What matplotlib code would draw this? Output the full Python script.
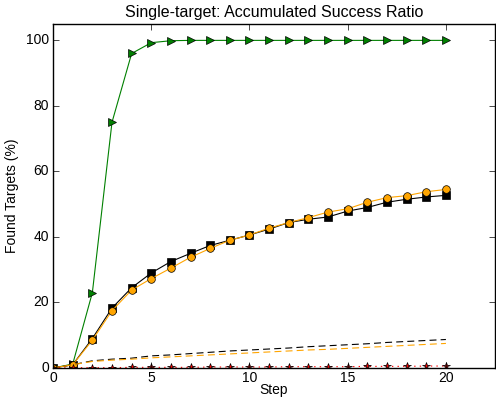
import matplotlib
matplotlib.use("Agg")
import matplotlib.pyplot as plt

plt.style.use("classic")
plt.rcParams["font.family"] = ["Liberation Sans", "DejaVu Sans"]

steps = list(range(21))

# accumulated success ratio (%) per method
fast = [0, 1.2, 23, 75, 96, 99.3, 99.9, 100, 100, 100, 100,
        100, 100, 100, 100, 100, 100, 100, 100, 100, 100]
greedy = [0, 1.0, 9.0, 18.3, 24.5, 29.0, 32.5, 35.0, 37.4, 39.0, 40.6,
          42.4, 44.4, 45.4, 46.1, 47.9, 49.0, 50.6, 51.5, 52.2, 52.7]
ours = [0, 1.0, 8.5, 17.5, 23.8, 27.3, 30.5, 33.8, 36.5, 39.0, 40.6,
        42.7, 44.4, 45.9, 47.6, 48.6, 50.6, 52.0, 52.6, 53.8, 54.5]
greedy_rand = [0, 1.0, 2.2, 2.7, 3.0, 3.7, 4.0, 4.4, 4.8, 5.2, 5.5,
               5.8, 6.1, 6.5, 6.8, 7.1, 7.4, 7.8, 8.1, 8.4, 8.7]
ours_rand = [0, 1.0, 2.0, 2.4, 2.7, 3.1, 3.4, 3.7, 4.0, 4.3, 4.6,
             4.9, 5.2, 5.5, 5.7, 6.0, 6.3, 6.6, 6.9, 7.2, 7.5]
baseline = [0, 0.1, 0.1, 0.1, 0.2, 0.2, 0.2, 0.2, 0.3, 0.3, 0.3,
            0.3, 0.4, 0.4, 0.4, 0.4, 0.5, 0.5, 0.5, 0.6, 0.6]

fig = plt.figure(figsize=(4.96, 4.0), dpi=100)
fig.patch.set_facecolor("white")
ax = fig.add_axes([0.107, 0.08, 0.891, 0.86])

ax.plot(steps, fast, color="green", marker=">", markersize=5.5, lw=0.8)
ax.plot(steps, greedy, color="black", marker="s", markersize=5.5, lw=0.8)
ax.plot(steps, ours, color="orange", marker="o", markersize=5.5, lw=0.8)
ax.plot(steps, greedy_rand, color="black", ls="--", dashes=(5, 3), lw=0.8)
ax.plot(steps, ours_rand, color="orange", ls="--", dashes=(5, 3), lw=0.8)
ax.plot(steps, baseline, color="red", ls=":", marker="*", markersize=5.5, lw=0.8)

ax.set_xlim(0, 22.5)
ax.set_ylim(0, 105)
ax.set_xticks([0, 5, 10, 15, 20])
ax.set_yticks([0, 20, 40, 60, 80, 100])
ax.tick_params(labelsize=10, pad=3)
ax.tick_params(axis="x", pad=2)
ax.set_xlabel("Step", fontsize=10, labelpad=-1)
ax.set_ylabel("Found Targets (%)", fontsize=10, labelpad=5)
ax.set_title("Single-target: Accumulated Success Ratio", fontsize=11.5, pad=5)

fig.savefig("out.png", dpi=100, facecolor="white")
